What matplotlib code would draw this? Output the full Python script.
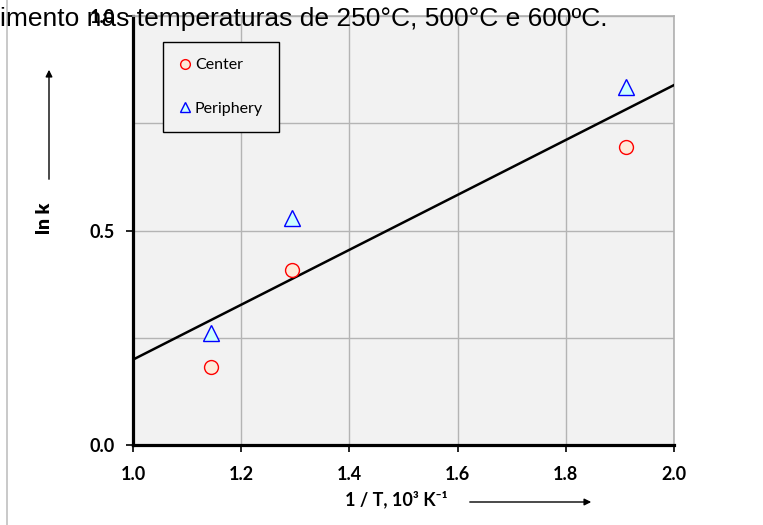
import numpy as np
import matplotlib
matplotlib.use("Agg")
import matplotlib.pyplot as plt
from matplotlib.lines import Line2D
from matplotlib.ticker import MultipleLocator

# data
inv_t = [1.145, 1.294, 1.912]
center_lnk = [0.182, 0.407, 0.694]
periphery_lnk = [0.262, 0.530, 0.834]
trend_x = [1.0, 2.0]
trend_y = [0.199, 0.839]
x_ticks = [1.0, 1.2, 1.4, 1.6, 1.8, 2.0]
y_ticks = [0.0, 0.5, 1.0]

chart_font = ['Lato', 'DejaVu Sans']

fig = plt.figure(figsize=(7.63, 5.25), dpi=100)
ax = fig.add_axes([133 / 763, 1 - 445 / 525, (674 - 133) / 763, (445 - 16) / 525])
ax.set_facecolor('#f2f2f2')

ax.set_xlim(1.0, 2.0)
ax.set_ylim(0.0, 1.0)
ax.set_xticks(x_ticks)
ax.set_yticks(y_ticks)
ax.yaxis.set_minor_locator(MultipleLocator(0.25))
ax.set_xticklabels(['%.1f' % v for v in x_ticks], fontweight='bold', fontsize=13, family=chart_font)
ax.set_yticklabels(['%.1f' % v for v in y_ticks], fontweight='bold', fontsize=13, family=chart_font)
ax.tick_params(axis='x', direction='out', length=5, width=1.2, pad=10)
ax.tick_params(axis='y', direction='out', length=5, width=1.2, pad=8)
ax.tick_params(axis='y', which='minor', length=0)
ax.grid(True, which='both', color='#b4b4b4', linewidth=1.0)
ax.set_axisbelow(True)

for side in ['left', 'bottom']:
    ax.spines[side].set_color('black')
    ax.spines[side].set_linewidth(2.3)
for side in ['top', 'right']:
    ax.spines[side].set_color('#b0b0b0')
    ax.spines[side].set_linewidth(1.2)

ax.plot(trend_x, trend_y, color='black', linewidth=1.8, zorder=3)
ax.plot(inv_t, center_lnk, linestyle='none', marker='o', markersize=10,
        markerfacecolor='#fde9d9', markeredgecolor='#ff0000', markeredgewidth=1.0,
        label='Center', zorder=4)
ax.plot(inv_t, periphery_lnk, linestyle='none', marker='^', markersize=11,
        markerfacecolor='#ccffff', markeredgecolor='#0000ff', markeredgewidth=1.0,
        label='Periphery', zorder=4)

leg_handles = [
    Line2D([], [], linestyle='none', marker='o', markersize=7, markerfacecolor='#fde9d9',
           markeredgecolor='#ff0000', markeredgewidth=1.0),
    Line2D([], [], linestyle='none', marker='^', markersize=7, markerfacecolor='#ccffff',
           markeredgecolor='#0000ff', markeredgewidth=1.0),
]
leg = ax.legend(leg_handles, ['Center', 'Periphery'], loc='upper left',
                bbox_to_anchor=(163 / 763, 1 - 42 / 525), bbox_transform=fig.transFigure,
                frameon=True, fancybox=False, edgecolor='black', facecolor='#f2f2f2',
                framealpha=1, borderpad=1.0, labelspacing=1.85, handlelength=0.7,
                handletextpad=0.3, borderaxespad=0, prop={'family': chart_font, 'size': 11.5})
leg.get_frame().set_linewidth(1.0)

# axis labels with arrows
fig.text(45 / 763, 1 - 218 / 525, 'ln k', rotation=90, ha='center', va='center',
         fontsize=14, fontweight='heavy', family=chart_font)
fig.add_artist(matplotlib.patches.FancyArrowPatch((49 / 763, 1 - 182 / 525), (49 / 763, 1 - 67 / 525),
                                                  transform=fig.transFigure, arrowstyle='-|>',
                                                  mutation_scale=10, color='black', linewidth=1.0))
fig.text(396 / 763, 1 - 499 / 525, '1 / T, 10³ K⁻¹', ha='center', va='center',
         fontsize=13, fontweight='bold', family=chart_font)
fig.add_artist(matplotlib.patches.FancyArrowPatch((467 / 763, 1 - 502 / 525), (594 / 763, 1 - 502 / 525),
                                                  transform=fig.transFigure, arrowstyle='-|>',
                                                  mutation_scale=10, color='black', linewidth=1.0))

# page remnants around the chart
fig.add_artist(Line2D([7 / 763, 7 / 763], [0, 1], transform=fig.transFigure, color='#c0c0c0', linewidth=1.2))
fig.text(0, 1 - 19 / 525, 'imento nas temperaturas de 250°C, 500°C e 600ºC.', ha='left', va='center',
         fontsize=19, family=['Liberation Sans', 'DejaVu Sans'])

fig.savefig('out.png', dpi=100)
